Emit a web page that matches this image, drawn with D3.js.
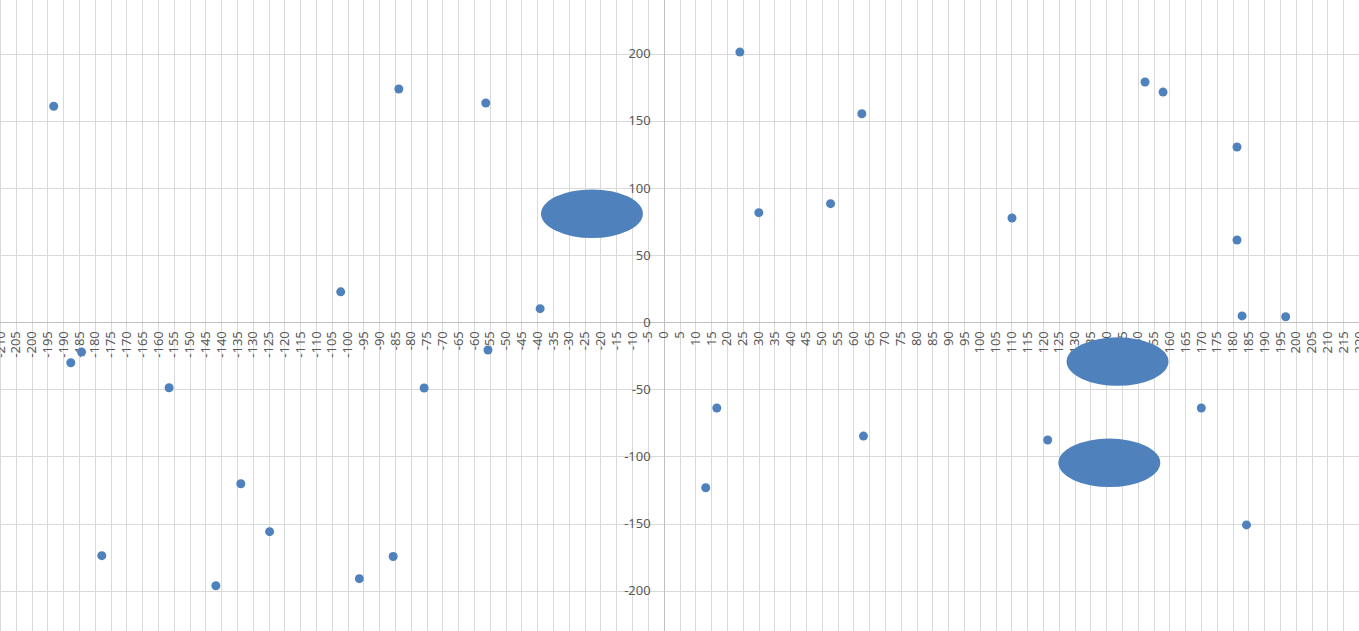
<!DOCTYPE html>
<html>
<head>
<meta charset="utf-8">
<script src="https://cdn.jsdelivr.net/npm/d3@7"></script>
<style>
  html, body { margin: 0; padding: 0; background: #fff; overflow: hidden; }
  svg { display: block; }
  text { font-family: "Noto Sans", "Open Sans", sans-serif; fill: #595959; }
</style>
</head>
<body>
<svg id="chart" width="1359" height="631"></svg>
<script>
// ---- data ----
const xTicks = d3.range(-210, 221, 5);
const yTicks = [-200, -150, -100, -50, 0, 50, 100, 150, 200];

const pointsX = [-193.0, -187.6, -184.2, -177.8, -156.5, -141.7, -133.8, -124.7, -102.2, -96.3,
                 -85.6, -83.8, -75.8, -56.3, -55.6, -39.1, 13.3, 16.8, 24.1, 30.1,
                 52.8, 62.7, 63.2, 110.2, 121.5, 152.3, 158.0, 170.1, 181.4, 181.4,
                 183.0, 184.4, 196.8];
const pointsY = [160.9, -30.2, -22.2, -173.9, -48.8, -196.3, -120.3, -156.0, 22.6, -191.0,
                 -174.5, 173.7, -49.0, 163.3, -20.7, 10.1, -123.3, -63.9, 201.2, 81.6,
                 88.3, 155.3, -84.8, 77.6, -87.7, 178.9, 171.4, -63.9, 130.5, 61.2,
                 4.7, -151.0, 4.1];

// dense clusters of points (centre and spread in data units)
const clusterX = [-22.7, 143.6, 141.0];
const clusterY = [80.8, -29.3, -104.7];
const clusterR = [14.7, 14.7, 14.7];

// ---- layout ----
const W = 1359, H = 631;
const svg = d3.select("#chart");
const x = d3.scaleLinear().domain([-210, 220]).range([0, W]);
const y = d3.scaleLinear().domain([-230, 240]).range([H, 0]);
const color = "#4F81BD";
const mr = 4.5;

// gridlines
svg.append("g").selectAll("line").data(xTicks).join("line")
  .attr("x1", d => Math.round(x(d)) + 0.5).attr("x2", d => Math.round(x(d)) + 0.5)
  .attr("y1", 0).attr("y2", H)
  .attr("stroke", "#D9D9D9").attr("stroke-width", 1);
svg.append("g").selectAll("line").data(yTicks).join("line")
  .attr("y1", d => Math.round(y(d)) + 0.5).attr("y2", d => Math.round(y(d)) + 0.5)
  .attr("x1", 0).attr("x2", W)
  .attr("stroke", "#D9D9D9").attr("stroke-width", 1);

// axis lines
svg.append("line")
  .attr("x1", Math.round(x(0)) + 0.5).attr("x2", Math.round(x(0)) + 0.5)
  .attr("y1", 0).attr("y2", H).attr("stroke", "#BFBFBF");
svg.append("line")
  .attr("y1", Math.round(y(0)) + 0.5).attr("y2", Math.round(y(0)) + 0.5)
  .attr("x1", 0).attr("x2", W).attr("stroke", "#BFBFBF");

// x tick labels (rotated)
const y0 = y(0);
svg.append("g").selectAll("text").data(xTicks).join("text")
  .attr("transform", d => `translate(${x(d)},${y0 + 9}) rotate(-90)`)
  .attr("text-anchor", "end")
  .attr("dy", "0.35em")
  .attr("font-size", 13)
  .text(d => d);

// y tick labels
svg.append("g").selectAll("text").data(yTicks).join("text")
  .attr("x", x(0) - 13)
  .attr("y", d => y(d))
  .attr("dy", "0.35em")
  .attr("text-anchor", "end")
  .attr("font-size", 13)
  .text(d => d);

// clusters
svg.append("g").selectAll("ellipse").data(clusterX).join("ellipse")
  .attr("cx", (d, i) => x(d))
  .attr("cy", (d, i) => y(clusterY[i]))
  .attr("rx", (d, i) => x(d + clusterR[i]) - x(d) + mr)
  .attr("ry", (d, i) => y(clusterY[i]) - y(clusterY[i] + clusterR[i]) + mr)
  .attr("fill", color);

// points
svg.append("g").selectAll("circle").data(pointsX).join("circle")
  .attr("cx", d => x(d))
  .attr("cy", (d, i) => y(pointsY[i]))
  .attr("r", mr)
  .attr("fill", color);
</script>
</body>
</html>
